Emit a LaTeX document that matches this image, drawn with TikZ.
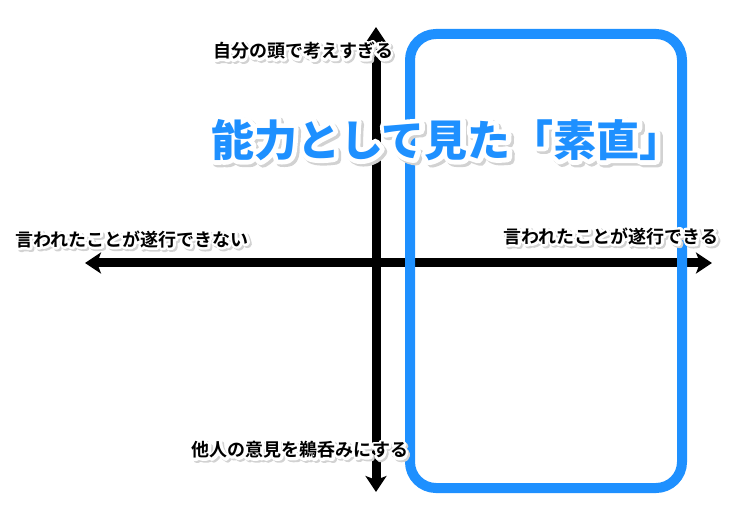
\documentclass[tikz,border=0pt]{standalone}
\usepackage{fontspec}
\setmainfont{Noto Sans CJK JP}
\newfontfamily\tagface{Noto Sans CJK JP Bold}
\newfontfamily\tagglow{Noto Sans CJK JP Bold}[FakeBold=28]
\newfontfamily\titleface{Noto Sans CJK JP Black}
\newfontfamily\titleglow{Noto Sans CJK JP Black}[FakeBold=22]
\usetikzlibrary{arrows.meta}
\definecolor{ink}{HTML}{000000}
\definecolor{frameblue}{HTML}{1E90FF}
\definecolor{haze}{HTML}{D2D2D2}
% text over a white halo and a soft grey shadow: #1 halo face, #2 shadow shift, #3 text
\newcommand{\Haloed}[3]{%
  \special{pdf:code 1 j 1 J}%
  \rlap{\kern#2\raisebox{-#2}{#1\color{haze}#3}}%
  \rlap{#1\color{white}#3}%
  #3}

\begin{document}
\begin{tikzpicture}[
    x=1pt, y=-1pt,
    axis/.style={line width=9pt, draw=ink, {Stealth[length=16pt, width=21pt, inset=4pt]}-{Stealth[length=16pt, width=21pt, inset=4pt]}},
    frame/.style={line width=10pt, draw=frameblue, rounded corners=26pt},
    tag/.style={inner sep=0pt, text=ink, font=\fontsize{18}{22}\tagface},
    headline/.style={inner sep=0pt, text=frameblue, font=\fontsize{43}{50}\titleface},
  ]
\useasboundingbox (0,0) rectangle (730,510);

% --- The two axes, each pointing both ways ------------------------------------
\coordinate (top) at (376,27);
\coordinate (bottom) at (376,492);
\coordinate (left) at (85,263);
\coordinate (right) at (712,263);
\draw[axis] (left) -- (right);
\draw[axis] (bottom) -- (top);

% --- The half that is marked out -----------------------------------------------
\draw[frame] (410,34) rectangle (682,488);

% --- The ends of the axes ------------------------------------------------------
\node[tag] (overthink) at (303,52) {\Haloed{\tagglow}{1.8pt}{自分の頭で考えすぎる}};
\node[tag] (cannot) at (132,240) {\Haloed{\tagglow}{1.8pt}{言われたことが遂行できない}};
\node[tag] (can) at (611,237) {\Haloed{\tagglow}{1.8pt}{言われたことが遂行できる}};
\node[tag] (swallow) at (300,451) {\Haloed{\tagglow}{1.8pt}{他人の意見を鵜呑みにする}};

% --- Title -----------------------------------------------------------------------
\node[headline] (title) at (447,141) {\Haloed{\titleglow}{2.5pt}{能力として見た「素直」}};

\end{tikzpicture}
\end{document}
